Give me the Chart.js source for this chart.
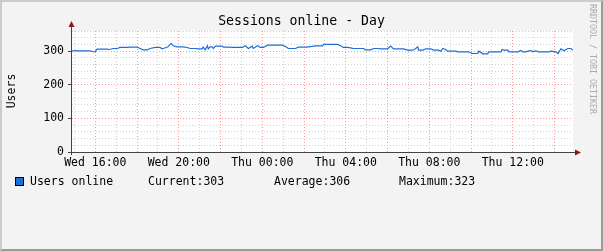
<!DOCTYPE html>
<html>
<head>
<meta charset="utf-8">
<script src="https://cdn.jsdelivr.net/npm/chart.js@4"></script>
<style>
  body { margin: 0; background: #fff; }
  #wrap { position: relative; width: 603px; height: 251px; background: #f3f3f3; font-family: 'DejaVu Sans Mono', monospace; color: #000; }
  #frame { position: absolute; left: 0; top: 0; width: 603px; height: 251px; box-sizing: border-box;
           border-top: 2px solid #cbcbcb; border-left: 2px solid #cbcbcb; border-right: 2px solid #9a9a9a; border-bottom: 2px solid #9a9a9a; }
  canvas { position: absolute; left: 0; top: 0; }
  .txt { position: absolute; white-space: pre; font-size: 11.5px; line-height: 12px; }
  #title { left: 0; width: 603px; top: 13px; text-align: center; font-size: 13.2px; line-height: 15px; }
  #ylab { left: 11px; top: 91px; transform: translate(-50%, -50%) rotate(-90deg); }
  #mark { left: 588px; top: 4px; writing-mode: vertical-rl; font-size: 8.3px; line-height: 9px; color: #ababab; }
  .sw { position: absolute; left: 15px; top: 177px; width: 7px; height: 7px; background: #1f6fd8; border: 1px solid #000; }
</style>
</head>
<body>
<div id="wrap">
  <div id="frame"></div>
  <canvas id="c" width="603" height="251"></canvas>
  <div class="txt" id="title">Sessions online - Day</div>
  <div class="txt" id="ylab">Users</div>
  <div class="txt" id="mark">RRDTOOL / TOBI OETIKER</div>
  <div id="legend"></div>
</div>
<script>
// minutes since Wed 00:00
var minutes = [893, 902, 907, 925, 945, 953, 959, 965, 974, 994, 1002, 1011, 1023, 1031, 1051, 1060, 1080, 1089, 1097, 1109,
  1118, 1132, 1146, 1152, 1161, 1169, 1178, 1184, 1195, 1213, 1224, 1233, 1247, 1256, 1267, 1270, 1276, 1282, 1285, 1290,
  1296, 1299, 1305, 1325, 1328, 1342, 1354, 1383, 1391, 1400, 1411, 1414, 1426, 1434, 1443, 1455, 1469, 1478, 1498, 1506,
  1515, 1535, 1544, 1564, 1573, 1584, 1593, 1613, 1616, 1656, 1665, 1673, 1685, 1694, 1702, 1731, 1737, 1751, 1760, 1771,
  1780, 1800, 1809, 1817, 1846, 1858, 1872, 1881, 1887, 1889, 1901, 1910, 1924, 1933, 1947, 1953, 1959, 1967, 1973, 1996,
  2002, 2033, 2042, 2059, 2062, 2074, 2088, 2091, 2103, 2126, 2129, 2134, 2146, 2149, 2175, 2183, 2189, 2198, 2206, 2212,
  2218, 2226, 2235, 2264, 2270, 2284, 2290, 2298, 2307, 2313, 2319, 2327, 2333];
var users = [300, 302, 301, 301, 301, 299, 298, 306, 306, 306, 305, 308, 308, 311, 311, 312, 312, 308, 304, 304,
  308, 311, 311, 307, 310, 313, 323, 316, 313, 313, 311, 308, 308, 307, 307, 312, 304, 316, 307, 313,
  313, 308, 315, 315, 312, 312, 311, 311, 316, 308, 315, 308, 316, 311, 311, 318, 318, 318, 318, 314,
  308, 308, 312, 312, 313, 314, 316, 316, 320, 320, 316, 311, 311, 310, 308, 308, 304, 304, 308, 308,
  307, 307, 315, 307, 307, 303, 303, 308, 313, 303, 303, 307, 307, 303, 303, 300, 308, 305, 300, 300,
  298, 298, 293, 293, 300, 292, 292, 298, 298, 298, 305, 303, 303, 298, 298, 302, 298, 298, 301, 301,
  299, 301, 298, 298, 300, 298, 293, 307, 301, 305, 308, 308, 303];

var tickMinutes = [960, 1200, 1440, 1680, 1920, 2160];
var tickLabels = ['Wed 16:00', 'Wed 20:00', 'Thu 00:00', 'Thu 04:00', 'Thu 08:00', 'Thu 12:00'];
var legendNames = ['Current', 'Average', 'Maximum'];
var legendValues = [303, 306, 323];
var legendLeft = [148, 274, 399];

var xMin = 893, xMax = 2333;
var RED = 'rgba(255,70,70,0.55)', GREY = '#d2d2d2';
var FONT = { family: 'DejaVu Sans Mono', size: 11.5 };

// legend row
var lg = document.getElementById('legend');
var html = '<div class="sw"></div><div class="txt" style="left:30px;top:175px">Users online</div>';
legendNames.forEach(function (n, i) {
  html += '<div class="txt" style="left:' + legendLeft[i] + 'px;top:175px">' + n + ':' + legendValues[i] + '</div>';
});
lg.innerHTML = html;

var frame = {
  id: 'frame',
  beforeDraw: function (chart) {
    var a = chart.chartArea, ctx = chart.ctx;
    ctx.save();
    ctx.fillStyle = '#fff';
    ctx.fillRect(a.left, a.top, a.right - a.left, a.bottom - a.top);
    ctx.restore();
  },
  afterDraw: function (chart) {
    var a = chart.chartArea, ctx = chart.ctx;
    ctx.save();
    ctx.strokeStyle = '#444';
    ctx.lineWidth = 1;
    ctx.beginPath();
    ctx.moveTo(a.left - 0.5, a.bottom + 3);
    ctx.lineTo(a.left - 0.5, a.top - 4);
    ctx.moveTo(a.left - 4, a.bottom + 0.5);
    ctx.lineTo(a.right + 3, a.bottom + 0.5);
    ctx.stroke();
    ctx.fillStyle = '#8b1a1a';
    ctx.beginPath();
    ctx.moveTo(a.left - 3.5, a.top - 4);
    ctx.lineTo(a.left + 2.5, a.top - 4);
    ctx.lineTo(a.left - 0.5, a.top - 10);
    ctx.fill();
    ctx.beginPath();
    ctx.moveTo(a.right + 2, a.bottom - 2.5);
    ctx.lineTo(a.right + 2, a.bottom + 3.5);
    ctx.lineTo(a.right + 8, a.bottom + 0.5);
    ctx.fill();
    ctx.restore();
  }
};

new Chart(document.getElementById('c').getContext('2d'), {
  type: 'line',
  data: {
    datasets: [{
      data: minutes.map(function (t, i) { return { x: t, y: users[i] }; }),
      borderColor: '#1f6fd8',
      borderWidth: 1.2,
      pointRadius: 0,
      tension: 0
    }]
  },
  options: {
    responsive: false,
    animation: false,
    layout: { padding: { left: 0, top: 31, right: 30, bottom: 0 } },
    plugins: { legend: { display: false }, tooltip: { enabled: false } },
    scales: {
      x: {
        type: 'linear', min: xMin, max: xMax,
        afterBuildTicks: function (s) {
          var t = [];
          for (var m = 900; m <= 2280; m += 60) t.push({ value: m });
          s.ticks = t;
        },
        afterFit: function (s) { s.height = 99; },
        grid: {
          color: function (c) { return c.tick && c.tick.value % 120 === 0 ? RED : GREY; },
          lineWidth: 1,
          drawTicks: true, tickLength: 3, tickColor: 'transparent'
        },
        border: { display: false, dash: [1, 2] },
        ticks: {
          autoSkip: false, maxRotation: 0, padding: 1, color: '#000', font: FONT,
          callback: function (v) { var i = tickMinutes.indexOf(v); return i < 0 ? '' : tickLabels[i]; }
        }
      },
      y: {
        min: 0, max: 360,
        afterFit: function (s) { s.width = 72; },
        grid: {
          color: function (c) { return c.tick && c.tick.value % 100 === 0 ? RED : GREY; },
          lineWidth: 1,
          drawTicks: true, tickLength: 4,
          tickColor: function (c) { return c.tick && c.tick.value % 100 === 0 ? '#444' : 'transparent'; }
        },
        border: { display: false, dash: [1, 2] },
        ticks: {
          stepSize: 20, autoSkip: false, padding: 4, color: '#000', font: FONT,
          callback: function (v) { return v % 100 === 0 && v < 360 ? v : ''; }
        }
      }
    }
  },
  plugins: [frame]
});
</script>
</body>
</html>
